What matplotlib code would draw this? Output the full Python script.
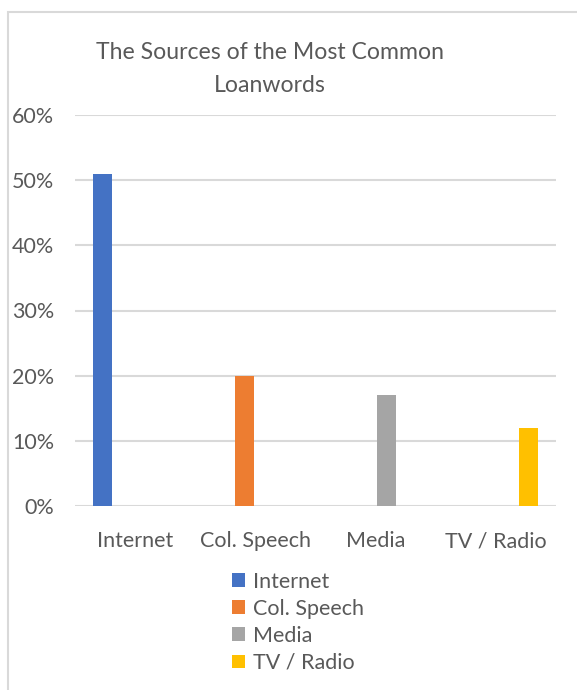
import matplotlib.pyplot as plt
from matplotlib.patches import Rectangle, Patch

# Daten
categories = ['Internet', 'Col. Speech', 'Media', 'TV / Radio']
shares = [0.51, 0.20, 0.17, 0.12]
colors = ['#4472C4', '#ED7D31', '#A5A5A5', '#FFC000']
y_ticks = [0, 0.1, 0.2, 0.3, 0.4, 0.5, 0.6]

text_col = '#595959'
grid_col = '#D9D9D9'
plt.rcParams['font.family'] = ['Lato', 'DejaVu Sans']

W, H = 577, 690
fig = plt.figure(figsize=(W / 100, H / 100), dpi=100)

# Rahmen des Diagrammbereichs (rechts/unten abgeschnitten)
fig.patches.append(Rectangle((8 / W, -0.1), 1.2, 1.1 - 12 / H, transform=fig.transFigure,
                             fill=False, edgecolor=grid_col, linewidth=1.5))

x0, x1, y0, y1 = 75, 556, 506, 115
ax = fig.add_axes([x0 / W, (H - y0) / H, (x1 - x0) / W, (y0 - y1) / H])

n = len(categories)
width = 0.155
step = 0.18
for i, (name, col) in enumerate(zip(categories, colors)):
    vals = [shares[j] if j == i else 0 for j in range(n)]  # jede Reihe nur in ihrer Kategorie
    ax.bar([j + (i - (n - 1) / 2) * step for j in range(n)], vals, width=width,
           color=col, label=name, zorder=3)

ax.set_xlim(-0.5, n - 0.5)
ax.set_ylim(0, 0.6)
ax.set_yticks(y_ticks)
ax.set_yticklabels([f'{int(round(t * 100))}%' for t in y_ticks])
ax.set_xticks(range(n))
ax.set_xticklabels(categories)
ax.tick_params(axis='both', length=0, colors=text_col, labelsize=15.5)
ax.tick_params(axis='y', pad=15)
ax.tick_params(axis='x', pad=18)
ax.grid(axis='y', color=grid_col, linewidth=1.5, zorder=0)
for s in ax.spines.values():
    s.set_visible(False)

fig.text(270 / W, 1 - 69 / H, 'The Sources of the Most Common\nLoanwords', ha='center', va='center',
         color=text_col, fontsize=16.6, linespacing=1.7)

handles = [Patch(facecolor=c, edgecolor='none') for c in colors]
fig.legend(handles, categories, loc='upper left', bbox_to_anchor=(223 / W, 1 - 563 / H),
           frameon=False, fontsize=15.5, labelcolor=text_col, handlelength=0.6, handleheight=0.6,
           handletextpad=0.4, labelspacing=0.33, borderaxespad=0)

fig.savefig('out.png', dpi=100)
